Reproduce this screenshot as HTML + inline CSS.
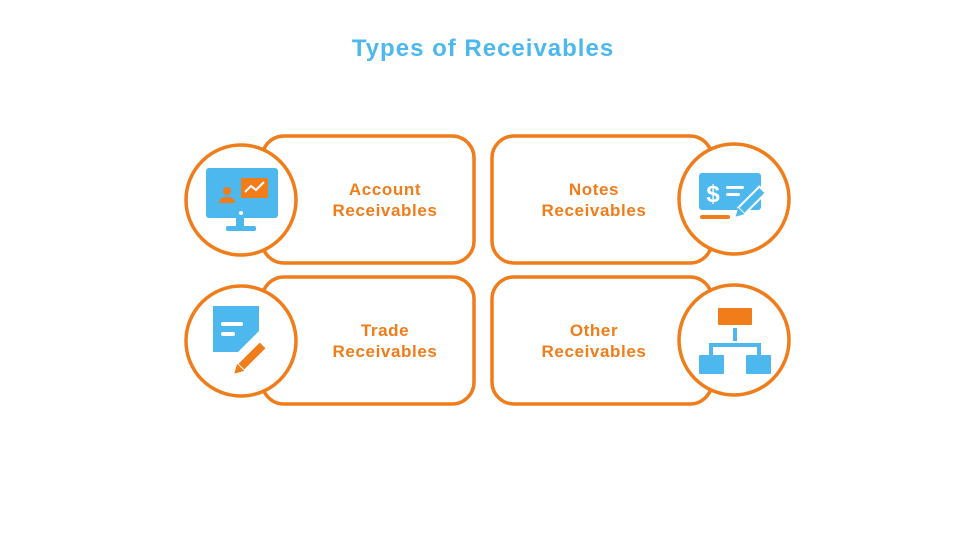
<!DOCTYPE html>
<html><head><meta charset="utf-8"><style>
html,body{margin:0;padding:0;background:#fff;}
svg{display:block;}
text{font-family:"Liberation Sans",sans-serif;font-weight:bold;}
</style></head><body>
<svg width="960" height="540" viewBox="0 0 960 540" xmlns="http://www.w3.org/2000/svg">
<text x="483" y="56" text-anchor="middle" font-size="24" letter-spacing="1" fill="#4DB8EE">Types of Receivables</text>
<g fill="none" stroke="#F07C1A" stroke-width="3.5">
<rect x="262" y="136" width="212" height="127" rx="22"/>
<rect x="492" y="136" width="220" height="127" rx="22"/>
<rect x="262" y="277" width="212" height="127" rx="22"/>
<rect x="492" y="277" width="220" height="127" rx="22"/>
</g>
<g fill="#fff" stroke="#F07C1A" stroke-width="3.5">
<circle cx="241" cy="200" r="55"/>
<circle cx="734" cy="199" r="55"/>
<circle cx="241" cy="341" r="55"/>
<circle cx="734" cy="340" r="55"/>
</g>
<g font-size="17" letter-spacing="0.6" fill="#F07C1A" text-anchor="middle">
<text x="385" y="195">Account</text><text x="385" y="216">Receivables</text>
<text x="594" y="195">Notes</text><text x="594" y="216">Receivables</text>
<text x="385" y="336">Trade</text><text x="385" y="357">Receivables</text>
<text x="594" y="336">Other</text><text x="594" y="357">Receivables</text>
</g>
<rect x="206" y="168" width="72" height="50" rx="3" fill="#4DB8EE"/>
<rect x="236" y="218" width="8" height="8" fill="#4DB8EE"/>
<rect x="226" y="226" width="30" height="5" rx="2" fill="#4DB8EE"/>
<circle cx="241" cy="213" r="2" fill="#fff"/>
<circle cx="227" cy="191" r="4" fill="#F07C1A"/>
<path d="M219 203 q0-6 8-6 q8 0 8 6z" fill="#F07C1A"/>
<rect x="241" y="178" width="27" height="20" rx="1" fill="#F07C1A"/>
<polyline points="245,192 251,186 256,190 264,182" fill="none" stroke="#fff" stroke-width="2"/>
<rect x="699" y="173" width="62" height="37" rx="3" fill="#4DB8EE"/>
<text x="713" y="202" font-size="24" fill="#fff" text-anchor="middle">$</text>
<rect x="726" y="186" width="18" height="3" rx="1.5" fill="#fff"/>
<rect x="726" y="193" width="14" height="3" rx="1.5" fill="#fff"/>
<rect x="700" y="215" width="30" height="4" rx="2" fill="#F07C1A"/>
<g transform="rotate(-45 753 200)"><rect x="737" y="195" width="30" height="9" fill="#4DB8EE" stroke="#fff" stroke-width="2"/><path d="M737 195 l-8 4.5 l8 4.5z" fill="#4DB8EE"/></g>
<path d="M213 306 h46 v25 l-21 21 h-25z" fill="#4DB8EE"/>
<rect x="221" y="322" width="22" height="4" rx="2" fill="#fff"/>
<rect x="221" y="332" width="14" height="4" rx="2" fill="#fff"/>
<g transform="rotate(-45 252 356)"><rect x="236" y="351" width="32" height="10" fill="#F07C1A" stroke="#fff" stroke-width="2"/><path d="M236 351 l-9 5 l9 5z" fill="#F07C1A"/></g>
<rect x="718" y="308" width="34" height="17" rx="1" fill="#F07C1A"/>
<g fill="none" stroke="#4DB8EE" stroke-width="4"><line x1="735" y1="328" x2="735" y2="341"/><path d="M711 356 v-11 h48 v11"/></g>
<rect x="699" y="355" width="25" height="19" rx="1" fill="#4DB8EE"/>
<rect x="746" y="355" width="25" height="19" rx="1" fill="#4DB8EE"/>
</svg>
</body></html>
